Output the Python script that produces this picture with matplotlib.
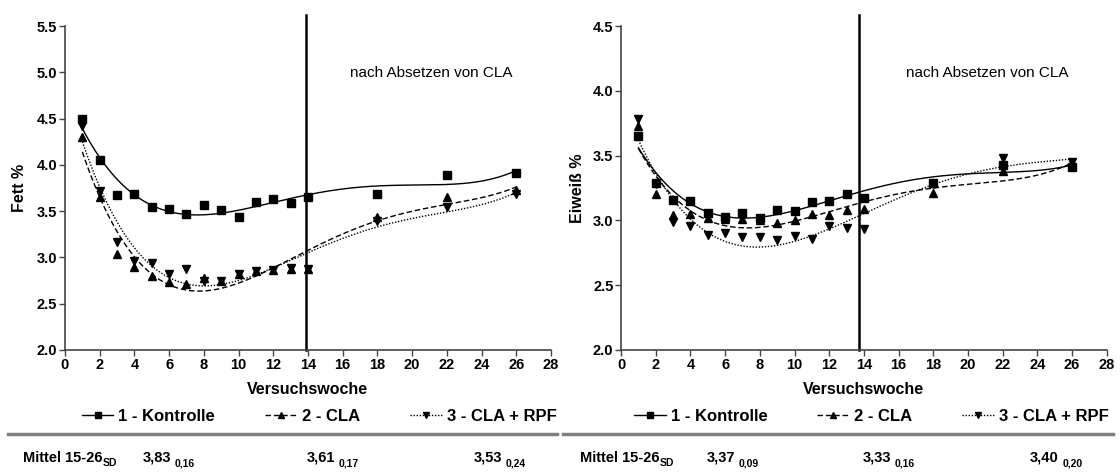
import matplotlib
matplotlib.use("Agg")
import matplotlib.pyplot as plt
from matplotlib.lines import Line2D
from matplotlib.ticker import FormatStrFormatter
import numpy as np

plt.rcParams['font.family'] = ['Liberation Sans', 'DejaVu Sans']

# Versuchswochen mit Messungen
wochen = np.array([1, 2, 3, 4, 5, 6, 7, 8, 9, 10, 11, 12, 13, 14, 18, 22, 26])

# Milchfett %
fett_kontrolle = [4.50, 4.05, 3.67, 3.69, 3.55, 3.52, 3.47, 3.57, 3.51, 3.44,
                  3.60, 3.63, 3.59, 3.65, 3.68, 3.89, 3.91]
fett_cla = [4.30, 3.65, 3.04, 2.90, 2.80, 2.73, 2.71, 2.78, 2.74, 2.82,
            2.85, 2.86, 2.88, 2.87, 3.44, 3.65, 3.73]
fett_rpf = [4.42, 3.72, 3.17, 2.96, 2.94, 2.82, 2.88, 2.74, 2.74, 2.82,
            2.85, 2.86, 2.89, 2.88, 3.39, 3.54, 3.68]

# Milcheiweiß %
eiweiss_kontrolle = [3.65, 3.29, 3.155, 3.15, 3.06, 3.03, 3.06, 3.02, 3.08, 3.07,
                     3.14, 3.15, 3.20, 3.175, 3.29, 3.43, 3.41]
eiweiss_cla = [3.73, 3.20, 3.04, 3.05, 3.02, 3.01, 3.01, 3.00, 2.98, 3.00,
               3.05, 3.04, 3.08, 3.09, 3.21, 3.38, 3.42]
eiweiss_rpf = [3.78, 3.28, 2.99, 2.955, 2.89, 2.90, 2.87, 2.87, 2.85, 2.88,
               2.86, 2.96, 2.94, 2.93, 3.28, 3.48, 3.45]

gruppen = ['1 - Kontrolle', '2 - CLA', '3 - CLA + RPF']
marker = ['s', '^', 'v']
linien = ['-', (0, (4, 2)), (0, (1, 1.2))]

# Mittelwerte Woche 15-26 mit SD
mittel_fett = ['3,83', '3,61', '3,53']
sd_fett = ['0,16', '0,17', '0,24']
mittel_eiweiss = ['3,37', '3,33', '3,40']
sd_eiweiss = ['0,09', '0,16', '0,20']

fig = plt.figure(figsize=(11.2, 4.72), dpi=100)
ax1 = fig.add_axes([0.058, 0.2585, 0.4339, 0.6864])
ax2 = fig.add_axes([0.5545, 0.2585, 0.4337, 0.6864])

panels = [
    (ax1, [fett_kontrolle, fett_cla, fett_rpf], (2.0, 5.5), 'Fett %', 13.9, -0.078, 0.523),
    (ax2, [eiweiss_kontrolle, eiweiss_cla, eiweiss_rpf], (2.0, 4.5), 'Eiweiß %', 13.7, -0.074, 0.515),
]

xs = np.linspace(wochen[0], wochen[-1], 300)
for ax, reihen, ylim, ylabel, absetzen, ylab_x, leg_x in panels:
    for werte, m, ls in zip(reihen, marker, linien):
        ax.plot(wochen, werte, ls='none', marker=m, ms=6.3, color='black', zorder=3)
        # Polynom 4. Ordnung als Trendkurve
        koeff = np.polyfit(wochen, werte, 4)
        ax.plot(xs, np.polyval(koeff, xs), ls=ls, lw=1.0, color='black', zorder=2)

    ax.axvline(absetzen, ymin=0, ymax=1.034, color='black', lw=1.8, clip_on=False)
    ax.text(0.586, 0.855, 'nach Absetzen von CLA', transform=ax.transAxes,
            fontsize=11, va='center', ha='left')

    ax.set_xlim(0, 28)
    ax.set_ylim(*ylim)
    ax.set_xticks(np.arange(0, 29, 2))
    ax.set_yticks(np.arange(ylim[0], ylim[1] + 0.01, 0.5))
    ax.yaxis.set_major_formatter(FormatStrFormatter('%.1f'))
    for side in ['top', 'right']:
        ax.spines[side].set_visible(False)
    for side in ['left', 'bottom']:
        ax.spines[side].set_color('#444444')
        ax.spines[side].set_linewidth(1.2)
    ax.tick_params(direction='out', length=4, width=1, color='#444444', pad=1.5,
                   labelsize=10.5)
    for lab in ax.get_xticklabels() + ax.get_yticklabels():
        lab.set_fontweight('bold')

    ax.set_ylabel(ylabel, fontsize=11.5, fontweight='bold')
    ax.yaxis.set_label_coords(ylab_x, 0.5)
    ax.set_xlabel('Versuchswoche', fontsize=11.5, fontweight='bold')
    ax.xaxis.set_label_coords(0.5, -0.1)

    handles = [Line2D([], [], color='black', lw=1.0, ls=ls, marker=m, ms=4.5)
               for m, ls in zip(marker, linien)]
    ax.legend(handles, gruppen, loc='center', bbox_to_anchor=(leg_x, -0.206),
              ncol=3, frameon=False, handlelength=1.9, handletextpad=0.3,
              columnspacing=3.0, borderaxespad=0, borderpad=0,
              prop={'weight': 'bold', 'size': 12})

# Trennlinie unter den Legenden
for x0, x1 in [(8, 557), (563, 1113)]:
    fig.add_artist(Line2D([x0 / 1120, x1 / 1120], [1 - 434 / 472] * 2,
                          color='#808080', lw=2.5))

# Zeile mit den Mittelwerten, SD jeweils tiefgestellt
zeile_y = 1 - 458 / 472


def tiefgestellt(basis, text, dx):
    ax1.annotate(text, xy=(1, 0), xycoords=basis, xytext=(dx, -2.5),
                 textcoords='offset points', fontsize=7.5, fontweight='bold',
                 va='bottom', ha='left', annotation_clip=False)


def mittel_zeile(x_label, x_werte, werte, sds):
    t = fig.text(x_label / 1120, zeile_y, 'Mittel 15-26', fontsize=10.5,
                 fontweight='bold', va='center', ha='left')
    tiefgestellt(t, 'SD', 0.3)
    for xw, w, sd in zip(x_werte, werte, sds):
        tw = fig.text(xw / 1120, zeile_y, w, fontsize=10.5, fontweight='bold',
                      va='center', ha='left')
        tiefgestellt(tw, sd, 2.5)


mittel_zeile(23, [143, 307, 474], mittel_fett, sd_fett)
mittel_zeile(580, [707, 863, 1030], mittel_eiweiss, sd_eiweiss)

fig.savefig('out.png', dpi=100)
